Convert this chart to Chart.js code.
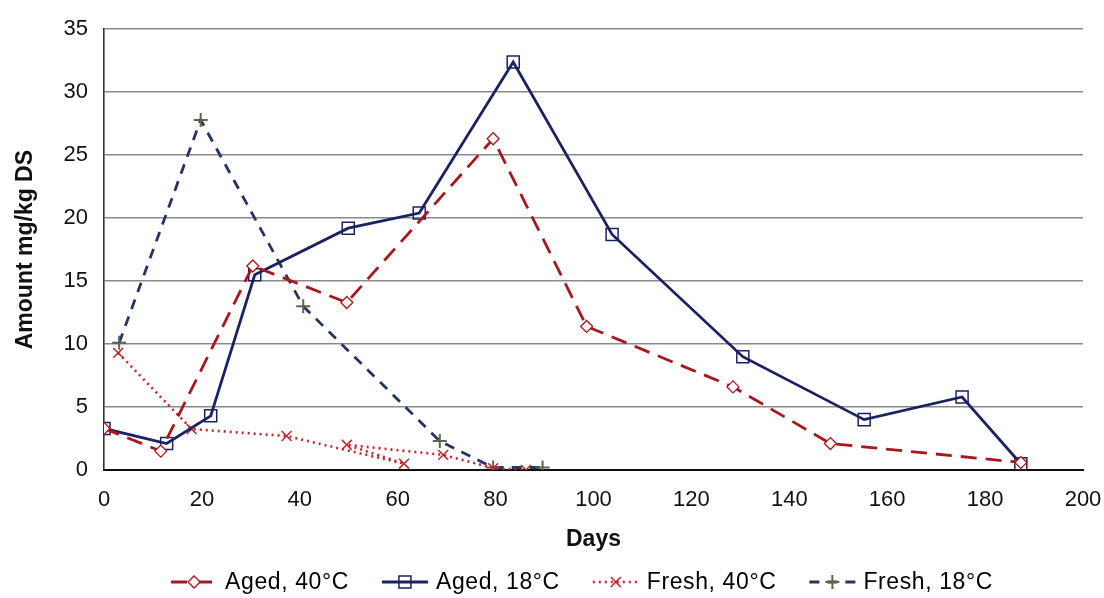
<!DOCTYPE html>
<html>
<head>
<meta charset="utf-8">
<script src="https://cdn.jsdelivr.net/npm/chart.js@4.4.1/dist/chart.umd.min.js"></script>
<style>
  html, body { margin: 0; padding: 0; background: #ffffff; }
  #wrap { width: 1104px; height: 598px; }
  canvas { display: block; }
</style>
</head>
<body>
<div id="wrap"><canvas id="c" width="1104" height="598"></canvas></div>
<script>
// ---- Data ----
const seriesLabels = ['Aged, 40°C', 'Aged, 18°C', 'Fresh, 40°C', 'Fresh, 18°C'];

const aged40Days   = [0, 11.6, 30.4, 49.6, 79.5, 98.6, 128.5, 148.4, 187.3];
const aged40Values = [3.3, 1.5, 16.2, 13.3, 26.3, 11.4, 6.6, 2.1, 0.6];

const aged18Days   = [0, 12.8, 21.8, 30.8, 49.9, 64.4, 83.6, 103.8, 130.5, 155.3, 175.3, 187.3];
const aged18Values = [3.3, 2.1, 4.3, 15.5, 19.2, 20.4, 32.4, 18.7, 9.0, 4.0, 5.8, 0.5];

const fresh40Days   = [2.9, 17.9, 37.3, 61.3, 49.6, 69.3, 79.5, 86.2];
const fresh40Values = [9.3, 3.25, 2.7, 0.5, 2.0, 1.2, 0.15, 0.0];

const fresh18Days   = [3.1, 19.75, 40.7, 68.6, 79.5, 89.6];
const fresh18Values = [10.1, 27.8, 13.0, 2.3, 0.2, 0.2];

const xTicks = [0, 20, 40, 60, 80, 100, 120, 140, 160, 180, 200];
const yTicks = [0, 5, 10, 15, 20, 25, 30, 35];

const xTitle = 'Days';
const yTitle = 'Amount mg/kg DS';

function pts(xs, ys) { return xs.map((x, i) => ({ x: x, y: ys[i] })); }

const FONT = '"Liberation Sans", Arial, Helvetica, sans-serif';

const datasets = [
  {
    label: seriesLabels[0],
    data: pts(aged40Days, aged40Values),
    borderColor: '#A8171E',
    backgroundColor: '#ffffff',
    borderWidth: 2.8,
    borderDash: [16, 9],
    pointStyle: 'rectRot',
    pointRadius: 6,
    pointBorderWidth: 1.3,
    pointBorderColor: '#A8171E',
    pointBackgroundColor: '#ffffff',
    tension: 0
  },
  {
    label: seriesLabels[1],
    data: pts(aged18Days, aged18Values),
    borderColor: '#1B2264',
    backgroundColor: '#ffffff',
    borderWidth: 2.8,
    borderDash: [],
    pointStyle: 'rect',
    pointRadius: 8.5,
    pointBorderWidth: 1.5,
    pointBorderColor: '#1B2264',
    pointBackgroundColor: 'rgba(255,255,255,0)',
    tension: 0
  },
  {
    label: seriesLabels[2],
    data: pts(fresh40Days, fresh40Values),
    borderColor: '#C0262D',
    backgroundColor: '#ffffff',
    borderWidth: 2.6,
    borderDash: [2, 4],
    pointStyle: 'crossRot',
    pointRadius: 7,
    pointBorderWidth: 1.5,
    pointBorderColor: '#C0262D',
    pointBackgroundColor: '#C0262D',
    tension: 0
  },
  {
    label: seriesLabels[3],
    data: pts(fresh18Days, fresh18Values),
    borderColor: '#243563',
    backgroundColor: '#ffffff',
    borderWidth: 2.8,
    borderDash: [10, 8],
    pointStyle: 'cross',
    pointRadius: 7,
    pointBorderWidth: 2,
    pointBorderColor: '#59664A',
    pointBackgroundColor: '#59664A',
    tension: 0
  }
];

// Bottom legend drawn from the dataset styles
const bottomLegend = {
  id: 'bottomLegend',
  afterDraw(chart) {
    const ctx = chart.ctx;
    ctx.save();
    ctx.font = '23px ' + FONT;
    if ('letterSpacing' in ctx) ctx.letterSpacing = '0.6px';
    ctx.textBaseline = 'middle';
    ctx.textAlign = 'left';
    const sampleW = 46, gap = 8, spacing = 33;
    const dss = chart.data.datasets;
    const widths = dss.map(ds => sampleW + gap + ctx.measureText(ds.label).width);
    const total = widths.reduce((a, b) => a + b, 0) + spacing * (dss.length - 1);
    const cx = 582;
    let x = cx - total / 2;
    const y = 582;
    dss.forEach((ds, i) => {
      ctx.save();
      ctx.strokeStyle = ds.borderColor;
      ctx.lineWidth = ds.borderWidth;
      ctx.setLineDash(ds.borderDash || []);
      ctx.beginPath();
      ctx.moveTo(x, y);
      ctx.lineTo(x + sampleW, y);
      ctx.stroke();
      ctx.setLineDash([]);
      ctx.strokeStyle = ds.pointBorderColor;
      ctx.fillStyle = ds.pointBackgroundColor;
      ctx.lineWidth = ds.pointBorderWidth;
      Chart.helpers.drawPoint(ctx, {
        pointStyle: ds.pointStyle,
        radius: ds.pointRadius,
        borderWidth: ds.pointBorderWidth,
        rotation: 0
      }, x + sampleW / 2, y);
      ctx.restore();
      ctx.fillStyle = '#000000';
      ctx.fillText(ds.label, x + sampleW + gap, y + 1);
      x += widths[i] + spacing;
    });
    ctx.restore();
  }
};

new Chart(document.getElementById('c'), {
  type: 'line',
  data: { datasets: datasets },
  plugins: [bottomLegend],
  options: {
    responsive: false,
    animation: false,
    devicePixelRatio: 1,
    layout: { padding: { top: 29, right: 21, bottom: 45, left: 0 } },
    plugins: {
      legend: { display: false },
      tooltip: { enabled: false }
    },
    scales: {
      x: {
        type: 'linear',
        min: 0,
        max: 200,
        afterBuildTicks(scale) { scale.ticks = xTicks.map(v => ({ value: v })); },
        afterFit(scale) {
          scale.height = 83;
          scale.paddingLeft = 0;
          scale.paddingRight = 0;
        },
        ticks: {
          color: '#111111',
          font: { family: FONT, size: 22 },
          padding: 17,
          maxRotation: 0
        },
        grid: { display: false, drawTicks: false },
        border: { display: true, color: '#111111', width: 2 },
        title: {
          display: true,
          text: xTitle,
          color: '#111111',
          font: { family: FONT, size: 23, weight: 'bold' },
          padding: { top: 0, bottom: 0 }
        }
      },
      y: {
        type: 'linear',
        min: 0,
        max: 35,
        afterBuildTicks(scale) { scale.ticks = yTicks.map(v => ({ value: v })); },
        afterFit(scale) { scale.width = 104; },
        ticks: {
          color: '#111111',
          font: { family: FONT, size: 22 },
          padding: 16
        },
        grid: { display: true, drawTicks: false, color: '#8a8a8a', lineWidth: 1.6 },
        border: { display: true, color: '#333333', width: 1.6 },
        title: {
          display: true,
          text: yTitle,
          color: '#111111',
          font: { family: FONT, size: 23, weight: 'bold' },
          padding: { top: 12, bottom: 0 }
        }
      }
    }
  }
});
</script>
</body>
</html>
